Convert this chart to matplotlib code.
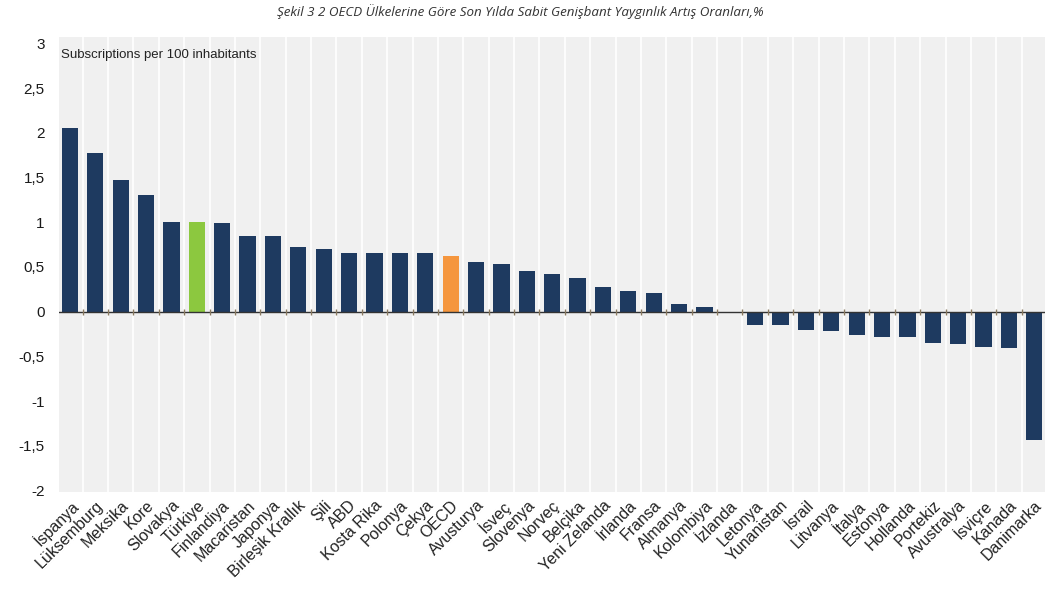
import numpy as np
import matplotlib.pyplot as plt

countries = ["İspanya", "Lüksemburg", "Meksika", "Kore", "Slovakya", "Türkiye",
             "Finlandiya", "Macaristan", "Japonya", "Birleşik Krallık", "Şili", "ABD",
             "Kosta Rika", "Polonya", "Çekya", "OECD", "Avusturya", "İsveç",
             "Slovenya", "Norveç", "Belçika", "Yeni Zelanda", "İrlanda", "Fransa",
             "Almanya", "Kolombiya", "İzlanda", "Letonya", "Yunanistan", "İsrail",
             "Litvanya", "İtalya", "Estonya", "Hollanda", "Portekiz", "Avustralya",
             "İsviçre", "Kanada", "Danimarka"]
values = [2.05, 1.77, 1.47, 1.30, 1.00, 1.00, 0.99, 0.85, 0.85, 0.72, 0.70, 0.66,
          0.66, 0.66, 0.66, 0.62, 0.56, 0.53, 0.45, 0.42, 0.38, 0.28, 0.23, 0.21,
          0.09, 0.05, -0.02, -0.15, -0.15, -0.20, -0.22, -0.26, -0.28, -0.28,
          -0.35, -0.36, -0.39, -0.41, -1.44]
yticks = [-2, -1.5, -1, -0.5, 0, 0.5, 1, 1.5, 2, 2.5, 3]
ytick_labels = ["-2", "-1,5", "-1", "-0,5", "0", "0,5", "1", "1,5", "2", "2,5", "3"]

navy = "#1e3a60"
colors = [navy] * len(countries)
colors[countries.index("Türkiye")] = "#8cc83f"
colors[countries.index("OECD")] = "#f5963e"

fig = plt.figure(figsize=(10.45, 6.01), dpi=100)
ax = fig.add_axes([0.056, 0.181, 0.944, 0.757])
ax.set_facecolor("#f0f0f0")

x = np.arange(len(countries))
ax.bar(x, values, width=0.64, color=colors, zorder=3)

# white vertical separators
for b in x[:-1] + 0.5:
    ax.axvline(b, color="white", lw=1.2, zorder=1)

ax.axhline(0, color="#333333", lw=1.0, zorder=4)
ax.plot(x[:-1] + 0.5, np.zeros(len(x) - 1), ls="none", marker="|",
        color="#8a7a60", ms=5, zorder=4)

ax.set_xlim(-0.45, 38.42)
ax.set_ylim(-2.02, 3.07)
ax.set_yticks(yticks)
ax.set_yticklabels(ytick_labels, fontsize=11, family="Liberation Sans", color="#1a1a1a")
ax.set_xticks(x)
ax.set_xticklabels(countries, rotation=45, ha="right", rotation_mode="anchor",
                   fontsize=11.5, family="Liberation Sans", color="#222222")
ax.tick_params(axis="both", length=0, pad=4)
ax.tick_params(axis="y", pad=10)
for s in ax.spines.values():
    s.set_visible(False)

ax.text(0.003, 0.975, "Subscriptions per 100 inhabitants", transform=ax.transAxes,
        fontsize=9.5, family="Liberation Sans", color="#222222", va="top", ha="left")

fig.text(0.498, 0.98, "Şekil 3 2 OECD Ülkelerine Göre Son Yılda Sabit Genişbant Yaygınlık Artış Oranları,%",
         ha="center", va="center", fontsize=9.6, style="italic", family="Open Sans",
         color="#333333")

fig.savefig("out.png", dpi=100)
